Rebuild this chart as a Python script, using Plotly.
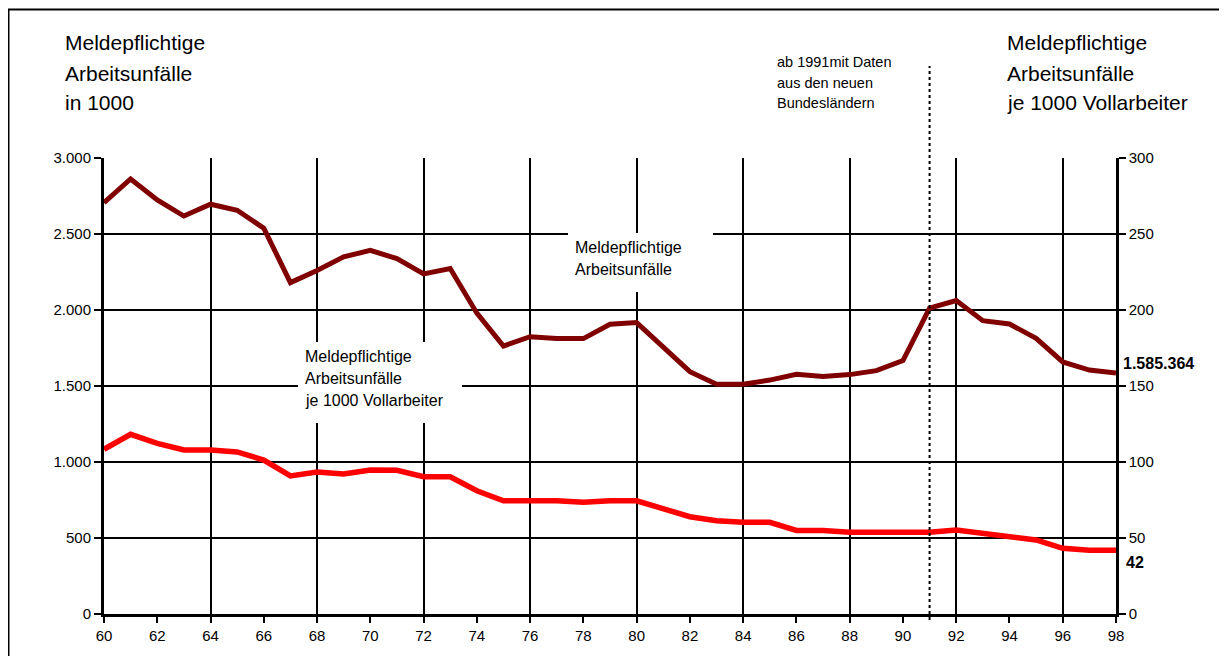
import plotly.graph_objects as go

years = [60, 61, 62, 63, 64, 65, 66, 67, 68, 69, 70, 71, 72, 73, 74, 75, 76, 77, 78, 79,
         80, 81, 82, 83, 84, 85, 86, 87, 88, 89, 90, 91, 92, 93, 94, 95, 96, 97, 98]

unfaelle_1000 = [2706, 2862, 2724, 2618, 2696, 2656, 2538, 2180, 2260, 2350, 2392, 2338,
                 2237, 2273, 1979, 1763, 1824, 1812, 1812, 1906, 1917, 1757, 1594, 1512,
                 1512, 1539, 1577, 1562, 1575, 1601, 1667, 2013, 2062, 1930, 1908, 1814,
                 1658, 1605, 1585]

je_1000_vollarbeiter = [108.4, 118.2, 112.3, 107.9, 107.9, 106.6, 101.3, 90.8, 93.4, 92.1,
                        94.7, 94.5, 90.3, 90.3, 81.1, 74.5, 74.5, 74.5, 73.5, 74.5, 74.5,
                        69.5, 64.0, 61.4, 60.3, 60.3, 55.0, 55.0, 53.8, 53.8, 53.8, 53.8,
                        55.3, 53.1, 51.5, 48.7, 43.2, 41.9, 42.0]

x_ticks = [60, 62, 64, 66, 68, 70, 72, 74, 76, 78, 80, 82, 84, 86, 88, 90, 92, 94, 96, 98]
x_grid = [60, 64, 68, 72, 76, 80, 84, 88, 92, 96]
left_ticks = [0, 500, 1000, 1500, 2000, 2500, 3000]
left_ticktext = ["0", "500", "1.000", "1.500", "2.000", "2.500", "3.000"]
right_ticks = [0, 50, 100, 150, 200, 250, 300]

end_label_abs = "1.585.364"
end_label_rate = "42"
break_year = 91

FONT = "Arial, 'Liberation Sans', sans-serif"

fig = go.Figure()

# invisible trace to hold grid x-axis
fig.add_trace(go.Scatter(x=[years[0], years[-1]], y=[0, 0], xaxis="x2", yaxis="y",
                         mode="lines", line=dict(width=0), showlegend=False, hoverinfo="skip"))

fig.add_trace(go.Scatter(x=years, y=unfaelle_1000, mode="lines",
                         line=dict(color="#800000", width=5), showlegend=False,
                         xaxis="x", yaxis="y"))
fig.add_trace(go.Scatter(x=years, y=je_1000_vollarbeiter, mode="lines",
                         line=dict(color="#FF0000", width=5.5), showlegend=False,
                         xaxis="x", yaxis="y2"))

# page has an 8px body margin; figure is sized so it ends at the window edge
OFF = 8
W, H = 1227 - OFF, 656 - OFF
L, R, T, B = 104 - OFF, 111, 158 - OFF, 42
PW, PH = W - L - R, H - T - B


def px(xp):
    return (xp - OFF - L) / PW


def py(yp):
    return (H - B - (yp - OFF)) / PH


fig.update_layout(
    width=W, height=H,
    margin=dict(l=L, r=R, t=T, b=B),
    paper_bgcolor="white", plot_bgcolor="white",
    font=dict(family=FONT, color="black", size=15),
    xaxis=dict(range=[60, 98], tickvals=x_ticks, ticktext=[str(v) for v in x_ticks],
               ticks="outside", ticklen=6, tickwidth=2, tickcolor="black",
               showgrid=False, zeroline=False, showline=True, linecolor="black", linewidth=2.5,
               tickfont=dict(size=15), fixedrange=True),
    xaxis2=dict(range=[60, 98], overlaying="x", tickvals=x_grid, showticklabels=False,
                ticks="", showgrid=True, gridcolor="black", gridwidth=2, zeroline=False,
                showline=False),
    yaxis=dict(range=[0, 3000], tickvals=left_ticks, ticktext=left_ticktext,
               ticks="outside", ticklen=7, tickwidth=2, tickcolor="black",
               showgrid=True, gridcolor="black", gridwidth=2, zeroline=False,
               showline=True, linecolor="black", linewidth=3, tickfont=dict(size=15)),
    yaxis2=dict(range=[0, 300], tickvals=right_ticks, overlaying="y", side="right",
                ticks="outside", ticklen=7, tickwidth=2, tickcolor="black",
                showgrid=False, zeroline=False, showline=True, linecolor="black",
                linewidth=2.5, tickfont=dict(size=15)),
)

shapes = []
# outer frame (top and left)
shapes.append(dict(type="line", xref="paper", yref="paper", x0=px(8), x1=px(1240),
                   y0=py(9.5), y1=py(9.5), line=dict(color="black", width=2)))
shapes.append(dict(type="line", xref="paper", yref="paper", x0=px(8.5), x1=px(8.5),
                   y0=py(9), y1=py(670), line=dict(color="black", width=2)))
# dotted break line
shapes.append(dict(type="line", xref="x", yref="paper", x0=break_year, x1=break_year,
                   y0=py(620), y1=py(66), line=dict(color="black", width=2, dash="dot")))
# white label boxes
shapes.append(dict(type="rect", xref="paper", yref="paper", x0=px(298), x1=px(462),
                   y0=py(423), y1=py(342), fillcolor="white", line=dict(width=0), layer="above"))
shapes.append(dict(type="rect", xref="paper", yref="paper", x0=px(568), x1=px(713),
                   y0=py(292), y1=py(233), fillcolor="white", line=dict(width=0), layer="above"))
fig.update_layout(shapes=shapes)

ann = []


def text(t, xp, yp, size, bold=False, xanchor="left"):
    ann.append(dict(text=(f"<b>{t}</b>" if bold else t), xref="paper", yref="paper",
                    x=px(xp), y=py(yp), xanchor=xanchor, yanchor="middle",
                    showarrow=False, font=dict(size=size, family=FONT, color="black")))


# left title
for t, yy in zip(["Meldepflichtige", "Arbeitsunfälle", "in 1000"], [43, 73, 102]):
    text(t, 63, yy, 21)
# right title
for t, yy in zip(["Meldepflichtige", "Arbeitsunfälle", "je 1000 Vollarbeiter"], [43, 73, 102]):
    text(t, 1005, yy, 21)
# note
for t, yy in zip(["ab 1991mit Daten", "aus den neuen", "Bundesländern"], [62, 83, 103]):
    text(t, 775, yy, 14.5)
# series labels
for t, yy in zip(["Meldepflichtige", "Arbeitsunfälle", "je 1000 Vollarbeiter"], [356, 378, 400]):
    text(t, 303, yy, 16)
for t, yy in zip(["Meldepflichtige", "Arbeitsunfälle"], [247, 269]):
    text(t, 573, yy, 16)
# end labels
text(end_label_abs, 1121, 363, 16, bold=True)
text(end_label_rate, 1124, 562, 16, bold=True)

fig.update_layout(annotations=ann)

fig.write_html("out.html")
